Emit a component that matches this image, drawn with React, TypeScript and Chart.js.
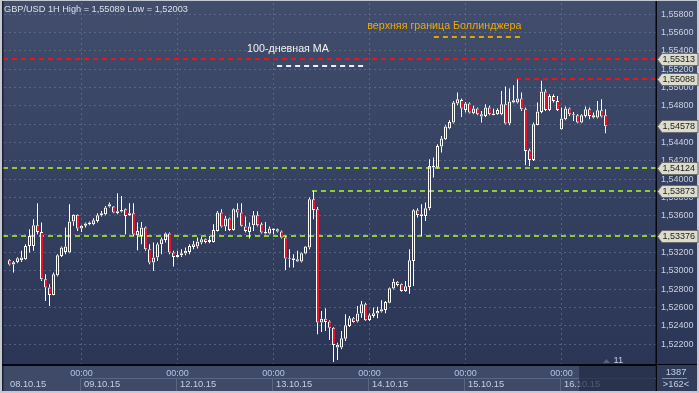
import React, { useEffect, useRef } from 'react';
import { Chart, registerables } from 'chart.js';

Chart.register(...registerables);

// ---- data (hourly candles, GBP/USD 1H) ----
const openPrices = [
  1.53115, 1.53067, 1.53093, 1.53115, 1.53126, 1.53271, 1.53271, 1.53497, 1.53424, 1.52907,
  1.52816, 1.52736, 1.52951, 1.53162, 1.53206, 1.53198, 1.53537, 1.5361, 1.5346, 1.5349,
  1.53508, 1.53508, 1.53544, 1.53606, 1.53617, 1.53701, 1.53701, 1.53628, 1.53646, 1.53672,
  1.53606, 1.53628, 1.53388, 1.5338, 1.53471, 1.53235, 1.53089, 1.53144, 1.53289, 1.53337,
  1.53406, 1.53198, 1.53151, 1.53169, 1.53187, 1.53206, 1.5326, 1.53264, 1.53308, 1.53344,
  1.53315, 1.53315, 1.53435, 1.53635, 1.53482, 1.5357, 1.53446, 1.53672, 1.53635, 1.53482,
  1.53424, 1.53497, 1.53606, 1.53508, 1.53406, 1.53406, 1.53446, 1.53453, 1.53428, 1.53362,
  1.53126, 1.53118, 1.53126, 1.531, 1.53187, 1.53253, 1.5378, 1.53671, 1.52434, 1.52477,
  1.52445, 1.52379, 1.52161, 1.52161, 1.52259, 1.52397, 1.52481, 1.52445, 1.52532, 1.52634,
  1.52463, 1.52507, 1.52532, 1.52554, 1.52572, 1.52652, 1.52805, 1.52881, 1.52852, 1.52779,
  1.52823, 1.53107, 1.5366, 1.53599, 1.53599, 1.53682, 1.54126, 1.54126, 1.54356, 1.54436,
  1.54556, 1.54618, 1.54825, 1.54865, 1.54756, 1.54825, 1.5472, 1.5477, 1.54709, 1.5469,
  1.54781, 1.54701, 1.54709, 1.54709, 1.54818, 1.54607, 1.54836, 1.54836, 1.5488, 1.54763,
  1.54315, 1.5421, 1.54592, 1.54734, 1.54956, 1.54756, 1.54909, 1.54854, 1.54545, 1.54654,
  1.5477, 1.54698, 1.54698, 1.54618, 1.5469, 1.54763, 1.54672, 1.54672, 1.54752, 1.54698,
];
const highPrices = [
  1.53126, 1.53107, 1.53147, 1.53217, 1.53289, 1.53453, 1.53562, 1.53737, 1.53526, 1.52962,
  1.52853, 1.5298, 1.5318, 1.53264, 1.53471, 1.53726, 1.53617, 1.53617, 1.53497, 1.53526,
  1.53537, 1.53573, 1.53628, 1.53653, 1.53708, 1.53744, 1.53708, 1.53846, 1.53817, 1.53679,
  1.53737, 1.53737, 1.53526, 1.53533, 1.53482, 1.53289, 1.53308, 1.53308, 1.53362, 1.53417,
  1.53417, 1.53217, 1.53217, 1.53235, 1.53253, 1.53289, 1.53326, 1.53362, 1.53369, 1.53351,
  1.5338, 1.53508, 1.53653, 1.53672, 1.53599, 1.53581, 1.53679, 1.53737, 1.53737, 1.53592,
  1.53526, 1.53653, 1.5365, 1.53526, 1.53533, 1.53482, 1.53464, 1.5346, 1.53439, 1.5338,
  1.53235, 1.5318, 1.53217, 1.53198, 1.53271, 1.53799, 1.53873, 1.53697, 1.52561, 1.5259,
  1.52459, 1.52386, 1.52215, 1.52343, 1.52525, 1.52507, 1.52496, 1.52616, 1.5267, 1.52652,
  1.52532, 1.52598, 1.52608, 1.52678, 1.5267, 1.52816, 1.52914, 1.52889, 1.5286, 1.52889,
  1.53234, 1.53671, 1.53682, 1.53726, 1.53744, 1.54217, 1.54235, 1.54381, 1.54472, 1.54588,
  1.54643, 1.54854, 1.54945, 1.5488, 1.54843, 1.54836, 1.548, 1.54781, 1.54745, 1.54818,
  1.548, 1.5477, 1.54774, 1.54963, 1.55011, 1.54989, 1.55025, 1.55089, 1.54945, 1.54781,
  1.54334, 1.54618, 1.54836, 1.55073, 1.54982, 1.54927, 1.54927, 1.54909, 1.54781, 1.54792,
  1.54781, 1.54734, 1.54709, 1.54709, 1.54792, 1.54781, 1.54727, 1.54854, 1.54872, 1.54763,
];
const lowPrices = [
  1.53056, 1.5298, 1.53082, 1.53096, 1.53118, 1.53198, 1.53217, 1.53399, 1.52889, 1.52671,
  1.52616, 1.52732, 1.52936, 1.53151, 1.5318, 1.53191, 1.5349, 1.53435, 1.53424, 1.53471,
  1.53497, 1.53497, 1.53526, 1.53592, 1.53606, 1.5369, 1.53628, 1.53617, 1.53635, 1.53399,
  1.53599, 1.5338, 1.53224, 1.53289, 1.53217, 1.53071, 1.52998, 1.53107, 1.5318, 1.53308,
  1.5318, 1.53046, 1.53144, 1.53151, 1.53169, 1.5318, 1.53235, 1.53242, 1.53289, 1.533,
  1.533, 1.53308, 1.53428, 1.53471, 1.53435, 1.53435, 1.53439, 1.53581, 1.53482, 1.53417,
  1.53351, 1.53435, 1.53482, 1.53406, 1.53399, 1.53399, 1.53399, 1.53417, 1.53351, 1.53009,
  1.53035, 1.53035, 1.53096, 1.53089, 1.5318, 1.53235, 1.53562, 1.52306, 1.52332, 1.52343,
  1.52244, 1.52003, 1.52026, 1.52143, 1.52234, 1.52386, 1.52434, 1.52434, 1.52488, 1.52452,
  1.52452, 1.52488, 1.52481, 1.52543, 1.52536, 1.52645, 1.52794, 1.5283, 1.52772, 1.52772,
  1.5275, 1.52834, 1.5358, 1.5338, 1.53544, 1.5366, 1.54017, 1.54115, 1.5429, 1.54428,
  1.54545, 1.54607, 1.54807, 1.54679, 1.54727, 1.54716, 1.54709, 1.54698, 1.54618, 1.54679,
  1.54698, 1.54698, 1.54701, 1.54698, 1.54599, 1.54588, 1.54829, 1.54825, 1.54745, 1.54152,
  1.54144, 1.54199, 1.54588, 1.5472, 1.54745, 1.54745, 1.54836, 1.54745, 1.54538, 1.54643,
  1.5469, 1.54636, 1.5461, 1.5461, 1.54672, 1.54654, 1.54661, 1.54661, 1.54672, 1.54501,
];
const closePrices = [
  1.53067, 1.53093, 1.53137, 1.53144, 1.53271, 1.5338, 1.53497, 1.53424, 1.52907, 1.52816,
  1.52736, 1.52962, 1.53169, 1.53253, 1.53264, 1.53537, 1.5361, 1.5346, 1.5349, 1.53515,
  1.53526, 1.53551, 1.53606, 1.53628, 1.5369, 1.53726, 1.53635, 1.5365, 1.53664, 1.53599,
  1.53628, 1.53395, 1.53435, 1.53471, 1.53235, 1.53089, 1.53144, 1.53289, 1.53344, 1.53406,
  1.53198, 1.53151, 1.53173, 1.53191, 1.53217, 1.53271, 1.53289, 1.53319, 1.53344, 1.53315,
  1.53337, 1.53446, 1.53635, 1.53482, 1.5357, 1.53446, 1.53672, 1.53635, 1.5349, 1.53435,
  1.53482, 1.53606, 1.53497, 1.53417, 1.53424, 1.5346, 1.5346, 1.53428, 1.53362, 1.53133,
  1.53137, 1.53137, 1.531, 1.53191, 1.53264, 1.5378, 1.53664, 1.52434, 1.52477, 1.52441,
  1.52379, 1.5219, 1.52193, 1.52263, 1.52405, 1.52481, 1.52441, 1.52532, 1.52634, 1.52459,
  1.52514, 1.52536, 1.52561, 1.52579, 1.52659, 1.52809, 1.52881, 1.52845, 1.52779, 1.5283,
  1.53114, 1.5366, 1.53609, 1.53617, 1.53682, 1.54144, 1.54144, 1.54363, 1.54443, 1.54574,
  1.54625, 1.54836, 1.54872, 1.5477, 1.54825, 1.54727, 1.5477, 1.54709, 1.54683, 1.54781,
  1.54709, 1.54716, 1.54756, 1.54818, 1.54607, 1.54847, 1.54861, 1.5488, 1.54763, 1.54308,
  1.5421, 1.54599, 1.54738, 1.54956, 1.54756, 1.54909, 1.54854, 1.54756, 1.54661, 1.5477,
  1.54709, 1.54709, 1.54618, 1.54698, 1.54763, 1.5469, 1.54698, 1.54752, 1.54683, 1.54578,
];

const midnightIndices = [18, 42, 66, 90, 114, 138];
const midnightLabel = '00:00';
const dayStartIndices = [0, 18, 42, 66, 90, 114, 138];
const dayLabels = ['08.10.15', '09.10.15', '12.10.15', '13.10.15', '14.10.15', '15.10.15', '16.10.15'];
const priceTicks = [
  1.522, 1.524, 1.526, 1.528, 1.53, 1.532, 1.534, 1.536, 1.538, 1.54,
  1.542, 1.544, 1.546, 1.548, 1.55, 1.552, 1.554, 1.556, 1.558,
];

const levelValues = [1.55313, 1.55088, 1.54124, 1.53873, 1.53376];
const levelStartIndices = [null, 127, null, 76, null];
const levelKinds = ['resistance', 'resistance', 'support', 'support', 'support'];
const tagValues = [1.55313, 1.55088, 1.54578, 1.54124, 1.53873, 1.53376];

const titleSymbol = 'GBP/USD';
const titleFrame = '1H';
const titleHigh = 1.55089;
const titleLow = 1.52003;

const maLabel = '100-дневная МА';
const maValue = 1.5524;
const maRange = [66.9, 88.9];
const bollLabel = 'верхняя граница Боллинджера';
const bollValue = 1.55555;
const bollRange = [106.1, 128.4];

const shiftLabel = '11';
const barsTotalLabel = '1387';
const barsVisibleLabel = '>162<';

// ---- style ----
const FONT = '"Liberation Sans", Arial, sans-serif';
const RED = '#e8102a';
const CANDLE_LINE = '#ffffff';
const GRID = 'rgba(112,128,160,0.55)';
const LEVEL_COLORS: Record<string, string> = { resistance: '#e8141e', support: '#8fca38' };

const fmt = (v: number) => v.toFixed(5).replace('.', ',');

const decorPlugin = {
  id: 'decor',
  beforeDraw(chart: any) {
    const { ctx, chartArea: ca, width, height } = chart;
    ctx.save();
    ctx.fillStyle = '#c4c8d0';
    ctx.fillRect(0, 0, width, height);
    const g = ctx.createLinearGradient(0, 1, 0, ca.bottom);
    g.addColorStop(0, '#414d6b');
    g.addColorStop(1, '#2b3657');
    ctx.fillStyle = g;
    ctx.fillRect(2, 1, 695, ca.bottom - 1);
    ctx.fillStyle = '#3e4a67';
    ctx.fillRect(2, ca.bottom, ca.right - 2, 391 - ca.bottom);
    ctx.fillStyle = '#313c5a';
    ctx.fillRect(ca.right, ca.bottom, 697 - ca.right, 391 - ca.bottom);
    ctx.restore();
  },
  beforeDatasetsDraw(chart: any) {
    const { ctx, chartArea: ca, scales } = chart;
    const xs = scales.x;
    const ys = scales.y;
    ctx.save();
    ctx.beginPath();
    ctx.rect(ca.left - 1, ca.top, ca.right - ca.left + 1, ca.bottom - ca.top);
    ctx.clip();
    ctx.lineWidth = 2;
    ctx.setLineDash([5, 4]);
    levelValues.forEach((v, i) => {
      const y = Math.round(ys.getPixelForValue(v));
      const s = levelStartIndices[i];
      const x0 = s === null ? ca.left - 1 : xs.getPixelForValue(s) - 1.5;
      ctx.strokeStyle = LEVEL_COLORS[levelKinds[i]];
      ctx.beginPath();
      ctx.moveTo(x0, y);
      ctx.lineTo(ca.right, y);
      ctx.stroke();
    });
    // MA segment
    ctx.strokeStyle = '#eef0f4';
    let y = Math.round(ys.getPixelForValue(maValue));
    ctx.beginPath();
    ctx.moveTo(xs.getPixelForValue(maRange[0]), y);
    ctx.lineTo(xs.getPixelForValue(maRange[1]), y);
    ctx.stroke();
    // Bollinger segment
    ctx.strokeStyle = '#e2a400';
    y = Math.round(ys.getPixelForValue(bollValue));
    ctx.beginPath();
    ctx.moveTo(xs.getPixelForValue(bollRange[0]), y);
    ctx.lineTo(xs.getPixelForValue(bollRange[1]), y);
    ctx.stroke();
    ctx.restore();
  },
  afterDraw(chart: any) {
    const { ctx, chartArea: ca, scales } = chart;
    const xs = scales.x;
    const ys = scales.y;
    ctx.save();
    // frame lines
    ctx.fillStyle = '#1b2131';
    ctx.fillRect(2, 1, 1.5, 390);
    ctx.fillStyle = '#05070c';
    ctx.fillRect(2, ca.bottom, ca.right - 2, 2);
    ctx.fillRect(ca.right - 0.5, 1, 1.5, 390);
    ctx.fillRect(ca.right, ca.bottom, 697 - ca.right, 1);

    // day cells + date labels
    const rowTop = 378.5;
    ctx.strokeStyle = '#5a6784';
    ctx.lineWidth = 1;
    ctx.font = `9.3px ${FONT}`;
    ctx.textBaseline = 'alphabetic';
    ctx.textAlign = 'left';
    dayStartIndices.forEach((idx, d) => {
      const px = xs.getPixelForValue(idx);
      if (d > 0) {
        const cx = Math.round(px) - 1.5;
        const nx = d + 1 < dayStartIndices.length ? Math.round(xs.getPixelForValue(dayStartIndices[d + 1])) - 1.5 : ca.right;
        ctx.beginPath();
        ctx.moveTo(cx, 391);
        ctx.lineTo(cx, rowTop);
        ctx.lineTo(nx, rowTop);
        ctx.stroke();
      }
      ctx.fillStyle = '#c3d0e6';
      ctx.fillText(dayLabels[d], px + (d === 0 ? 0.5 : 2.5), 386.5);
    });

    // dim future box in time bar
    ctx.fillStyle = 'rgba(34,43,68,0.72)';
    const bx = xs.getPixelForValue(142.4);
    ctx.fillRect(bx, ca.bottom + 2, ca.right - 0.5 - bx, 391 - ca.bottom - 2);

    // bottom right box
    ctx.fillStyle = '#c3d0e6';
    ctx.textAlign = 'center';
    ctx.font = `9.3px ${FONT}`;
    ctx.fillText(barsTotalLabel, 676, 375);
    ctx.fillText(barsVisibleLabel, 676, 387);
    ctx.fillStyle = '#7f8fae';
    ctx.fillRect(662, 378, 25, 1);

    // title
    ctx.textAlign = 'left';
    ctx.fillStyle = '#dbe1ea';
    ctx.font = `9.2px ${FONT}`;
    ctx.fillText(`${titleSymbol} ${titleFrame} High = ${fmt(titleHigh)} Low = ${fmt(titleLow)}`, 4, 11.7);

    // annotation labels
    ctx.font = `10.7px ${FONT}`;
    ctx.fillStyle = '#f2f2f2';
    ctx.fillText(maLabel, xs.getPixelForValue(59.4), ys.getPixelForValue(1.55388));
    ctx.fillStyle = '#f0aa00';
    ctx.fillText(bollLabel, xs.getPixelForValue(89.45), ys.getPixelForValue(1.55634));

    // shift marker
    const lx = xs.getPixelForValue(closePrices.length - 1) + 1;
    ctx.fillStyle = '#56637f';
    ctx.beginPath();
    ctx.moveTo(lx - 3.5, ca.bottom - 1);
    ctx.lineTo(lx + 3.5, ca.bottom - 1);
    ctx.lineTo(lx, ca.bottom - 5);
    ctx.closePath();
    ctx.fill();
    ctx.fillStyle = '#c3d0e6';
    ctx.font = `9.3px ${FONT}`;
    ctx.fillText(shiftLabel, lx + 7, ca.bottom - 1);

    // value tags
    ctx.font = `9px ${FONT}`;
    ctx.textBaseline = 'middle';
    tagValues.forEach((v) => {
      const y = Math.round(ys.getPixelForValue(v)) + 0.5;
      const x0 = ca.right + 1.5;
      const h = 12;
      ctx.beginPath();
      ctx.moveTo(x0, y);
      ctx.lineTo(x0 + 4.5, y - h / 2);
      ctx.lineTo(698, y - h / 2);
      ctx.lineTo(698, y + h / 2);
      ctx.lineTo(x0 + 4.5, y + h / 2);
      ctx.closePath();
      ctx.fillStyle = '#dcdccc';
      ctx.fill();
      ctx.strokeStyle = '#6c6c6c';
      ctx.lineWidth = 1;
      ctx.stroke();
      ctx.fillStyle = '#1c1c1c';
      ctx.fillText(fmt(v), x0 + 5, y + 0.5);
    });
    ctx.restore();
  },
};

export default function App() {
  const ref = useRef<HTMLCanvasElement | null>(null);
  useEffect(() => {
    document.body.style.margin = '0';
    const canvas = ref.current;
    if (!canvas) return;
    const isDown = (i: number) => closePrices[i] < openPrices[i];
    const bodies = openPrices.map((o, i) => ({ x: i, y: [o, closePrices[i]] }));
    const upper = openPrices.map((o, i) => ({ x: i, y: [Math.max(o, closePrices[i]), highPrices[i]] }));
    const lower = openPrices.map((o, i) => ({ x: i, y: [lowPrices[i], Math.min(o, closePrices[i])] }));
    const chart = new Chart(canvas, {
      type: 'bar',
      data: {
        datasets: [
          {
            data: bodies as any,
            barThickness: 3,
            borderWidth: (c: any) =>
              isDown(c.dataIndex) ? { left: 1, right: 0, top: 1, bottom: 1 } : 1,
            borderColor: CANDLE_LINE,
            backgroundColor: (c: any) => (isDown(c.dataIndex) ? RED : 'rgba(0,0,0,0)'),
            borderSkipped: false,
            grouped: false,
            inflateAmount: 0,
          } as any,
          {
            data: upper as any,
            barThickness: 1,
            borderWidth: 0,
            backgroundColor: CANDLE_LINE,
            grouped: false,
            inflateAmount: 0,
          } as any,
          {
            data: lower as any,
            barThickness: 1,
            borderWidth: 0,
            backgroundColor: CANDLE_LINE,
            grouped: false,
            inflateAmount: 0,
          } as any,
        ],
      },
      options: {
        animation: false,
        responsive: false,
        devicePixelRatio: 1,
        events: [],
        layout: { padding: { left: 4, top: 3, right: 0, bottom: 0 } },
        plugins: { legend: { display: false }, tooltip: { enabled: false } },
        scales: {
          x: {
            type: 'linear',
            min: -1.375,
            max: 161.625,
            bounds: 'data',
            offset: false,
            afterBuildTicks: (s: any) => {
              s.ticks = midnightIndices.map((v) => ({ value: v }));
            },
            afterFit: (s: any) => {
              s.height = 29;
              s.paddingLeft = 0;
              s.paddingRight = 0;
            },
            grid: { color: GRID, lineWidth: 1, drawTicks: false, offset: false },
            border: { display: false, dash: [2, 3] },
            ticks: {
              autoSkip: false,
              maxRotation: 0,
              padding: 4,
              color: '#b3c6e4',
              font: { family: FONT, size: 9 },
              callback: () => midnightLabel,
            },
          },
          y: {
            type: 'linear',
            position: 'right',
            min: 1.51982,
            max: 1.55923,
            bounds: 'data',
            afterBuildTicks: (s: any) => {
              s.ticks = priceTicks.map((v) => ({ value: v }));
            },
            afterFit: (s: any) => {
              s.width = 43;
              s.paddingTop = 0;
              s.paddingBottom = 0;
            },
            grid: { color: GRID, lineWidth: 1, drawTicks: false },
            border: { display: false, dash: [2, 3] },
            ticks: {
              autoSkip: false,
              padding: 5,
              color: '#cad1dc',
              font: { family: FONT, size: 9 },
              callback: (v: any) => fmt(Number(v)),
            },
          },
        },
      } as any,
      plugins: [decorPlugin],
    });
    return () => chart.destroy();
  }, []);
  return <canvas ref={ref} width={699} height={393} style={{ display: 'block' }} />;
}
